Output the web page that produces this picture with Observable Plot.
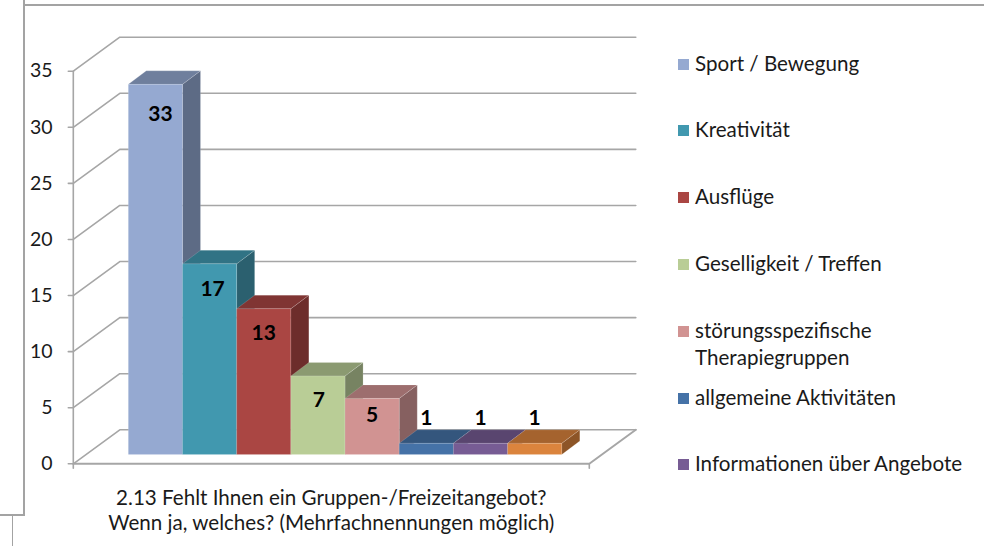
<!DOCTYPE html>
<html><head><meta charset="utf-8">
<script src="https://cdn.jsdelivr.net/npm/d3@7"></script>
<script src="https://cdn.jsdelivr.net/npm/@observablehq/plot@0.6"></script>
<style>
html,body{margin:0;padding:0;background:#fff;width:984px;height:546px;overflow:hidden}
#chart{position:absolute;left:0;top:0}
.frame{position:absolute;background:#a3a3a3;z-index:2}
.lg{position:absolute;left:678px;font:20.6px/27px Lato,sans-serif;color:#1a1a1a;white-space:pre;padding-left:17px}
.lg i{position:absolute;left:0;top:9px;width:11px;height:11px}
</style></head><body>
<div class="frame" style="left:23px;top:0;width:2px;height:516px"></div>
<div class="frame" style="left:23px;top:4px;width:961px;height:2px"></div>
<div class="frame" style="left:0;top:514px;width:25px;height:2px"></div>
<div class="frame" style="left:12px;top:515px;width:1px;height:31px"></div>
<div id="chart"></div>
<script>
const categories = ["Sport / Bewegung","Kreativität","Ausflüge","Geselligkeit / Treffen","störungsspezifische\nTherapiegruppen","allgemeine Aktivitäten","Informationen über Angebote","Sonstiges"];
const values = [33,17,13,7,5,1,1,1];
const frontColors = ["#95a9d1","#4198af","#aa4643","#b9cd96","#d19392","#4572a7","#775c94","#db843d"];
const topColors   = ["#6f7f9d","#317385","#803533","#8b9a71","#9d6e6e","#34567d","#59456f","#a5632e"];
const sideColors  = ["#5d6b85","#2b606f","#6d2d2b","#778362","#866060","#2c4a6b","#4c3b5f","#8d5527"];
const legendCategories = categories.slice(0,7);
const yTicks = [0,5,10,15,20,25,30,35];
const captionText = "2.13 Fehlt Ihnen ein Gruppen-/Freizeitangebot?\nWenn ja, welches? (Mehrfachnennungen möglich)";

// 3-D projection expressed in data units
const unit = 433.5/8, perY = 392.6/35;
const wallDx = 46.5/unit, wallDy = 34/perY;      // depth of the walls
const barDx = 18/unit, barDy = 13.5/perY;        // depth of each bar
const floorL = -55/unit, floorR = 461/unit;      // front edge of the floor
const baseY = 9.3/perY;                          // bars stand inside the floor

const grid = yTicks.flatMap(t => [
  {t, x: floorL - 5/unit, y: t},
  {t, x: floorL, y: t},
  {t, x: floorL + wallDx, y: t + wallDy},
  {t, x: floorR + wallDx, y: t + wallDy}
]);
const floorEdge = [
  {x: floorL, y: 0},
  {x: floorR, y: 0},
  {x: floorR + wallDx, y: wallDy}
];
const wallEdge = [{x: floorL, y: 0},{x: floorL, y: 35}];
const drops = [floorL, floorR].flatMap((x,k) => [{k,x,y:0},{k,x,y:-4.5/perY}]);

const faces = values.flatMap((v,i) => {
  const x0=i, x1=i+1, b=baseY, t=baseY+v;
  return [
    {id:`${i}s`, fill:sideColors[i], pts:[[x1,b],[x1+barDx,b+barDy],[x1+barDx,t+barDy],[x1,t]]},
    {id:`${i}t`, fill:topColors[i],  pts:[[x0,t],[x0+barDx,t+barDy],[x1+barDx,t+barDy],[x1,t]]},
    {id:`${i}f`, fill:frontColors[i],pts:[[x0,b],[x0,t],[x1,t],[x1,b]]}
  ];
}).flatMap(f => f.pts.map(([x,y]) => ({id:f.id, fill:f.fill, x, y})));

const insideShift = {33:[5,30],17:[3,25],13:[0,25],7:[1,24],5:[0,17]};
const labels = values.map((v,i)=>({v,i}));

const plot = Plot.plot({
  width: 984, height: 546,
  marginLeft: 73, marginRight: 0, marginTop: 0, marginBottom: 0,
  x: {type:"linear", domain:[0,8], range:[127.8,561.3], axis:null},
  y: {domain:[0,35], range:[463.3,70.7]},
  color: {type:"identity"},
  style: {fontFamily:"Lato, sans-serif", background:"#fff", overflow:"visible"},
  marks: [
    Plot.line(grid, {x:"x", y:"y", z:"t", stroke:"#a6a6a6", strokeWidth:1.6}),
    Plot.line(wallEdge, {x:"x", y:"y", stroke:"#a6a6a6", strokeWidth:1.6}),
    Plot.line(floorEdge, {x:"x", y:"y", stroke:"#a6a6a6", strokeWidth:2}),
    Plot.line(drops, {x:"x", y:"y", z:"k", stroke:"#a6a6a6", strokeWidth:1.6}),
    Plot.line(faces, {x:"x", y:"y", z:"id", fill:"fill", stroke:"#ffffff", strokeOpacity:0.25, strokeWidth:0.6, curve:"linear-closed"}),
    Plot.axisY({ticks:yTicks, tickSize:0, tickPadding:21, fontSize:19.5, fill:"#1a1a1a", label:null}),
    ...labels.map(d => {
      const s = insideShift[d.v] || [0,-25];
      return Plot.text([d], {x:q=>q.i+0.5, y:q=>q.v+baseY, text:q=>String(q.v), dx:s[0], dy:s[1], fontSize:21, fontWeight:700, fill:"#000"});
    }),
    Plot.text([captionText], {x:()=>(floorL+floorR)/2, y:()=>0, text:d=>d, dy:46, fontSize:20.6, lineHeight:1.21, fill:"#1a1a1a"})
  ]
});
document.getElementById("chart").append(plot);

legendCategories.forEach((c,i)=>{
  const el=document.createElement("div");
  el.className="lg";
  el.style.top=(49.5+66.8*i)+"px";
  el.innerHTML=`<i style="background:${frontColors[i]}"></i>`;
  el.append(c);
  document.body.append(el);
});
</script>
</body></html>
